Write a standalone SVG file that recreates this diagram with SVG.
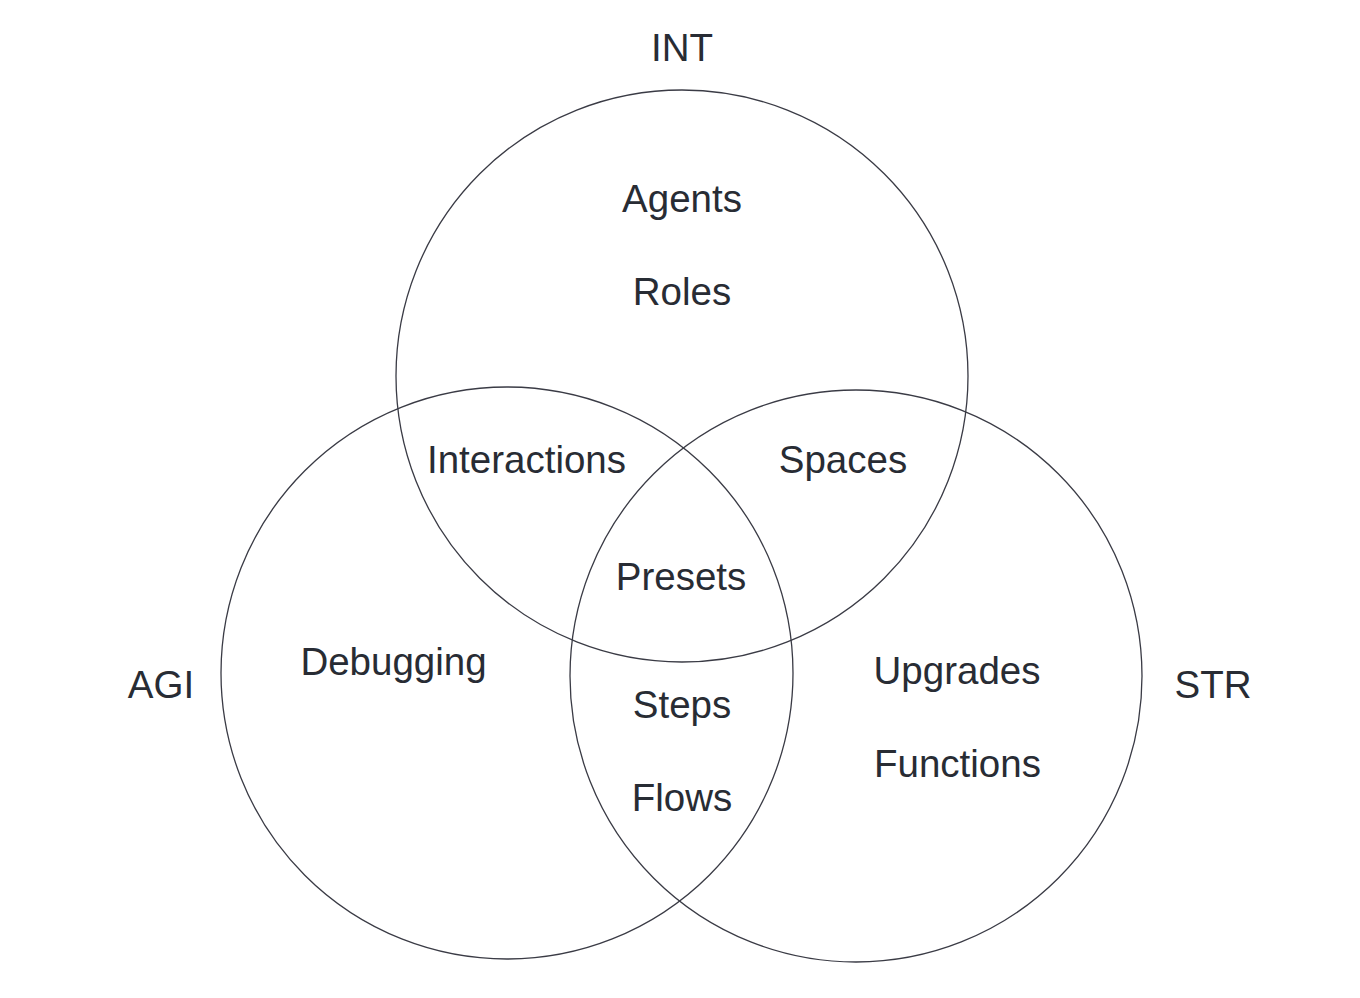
<svg xmlns="http://www.w3.org/2000/svg" width="1360" height="998" viewBox="0 0 1360 998">
<style>
.c{fill:none;stroke:#3a3b45;stroke-width:1.3}
.t{font-family:"Liberation Sans",Arial,sans-serif;font-size:38.5px;fill:#282c34;text-anchor:middle}
</style>
<rect width="1360" height="998" fill="#ffffff"/>
<g id="circles">
<circle id="int" class="c" cx="682" cy="376" r="286"/>
<circle id="agi" class="c" cx="507" cy="673" r="286"/>
<circle id="str" class="c" cx="856" cy="676" r="286"/>
</g>
<g id="labels">
<text class="t" x="682" y="61">INT</text>
<text class="t" x="161" y="698">AGI</text>
<text class="t" x="1213" y="698">STR</text>
<text class="t" x="682" y="212">Agents</text>
<text class="t" x="682" y="305">Roles</text>
<text class="t" x="526.5" y="473">Interactions</text>
<text class="t" x="843" y="473">Spaces</text>
<text class="t" x="681" y="590">Presets</text>
<text class="t" x="393.5" y="675">Debugging</text>
<text class="t" x="957" y="684">Upgrades</text>
<text class="t" x="957.5" y="777">Functions</text>
<text class="t" x="682" y="718">Steps</text>
<text class="t" x="682" y="811">Flows</text>
</g>
</svg>
